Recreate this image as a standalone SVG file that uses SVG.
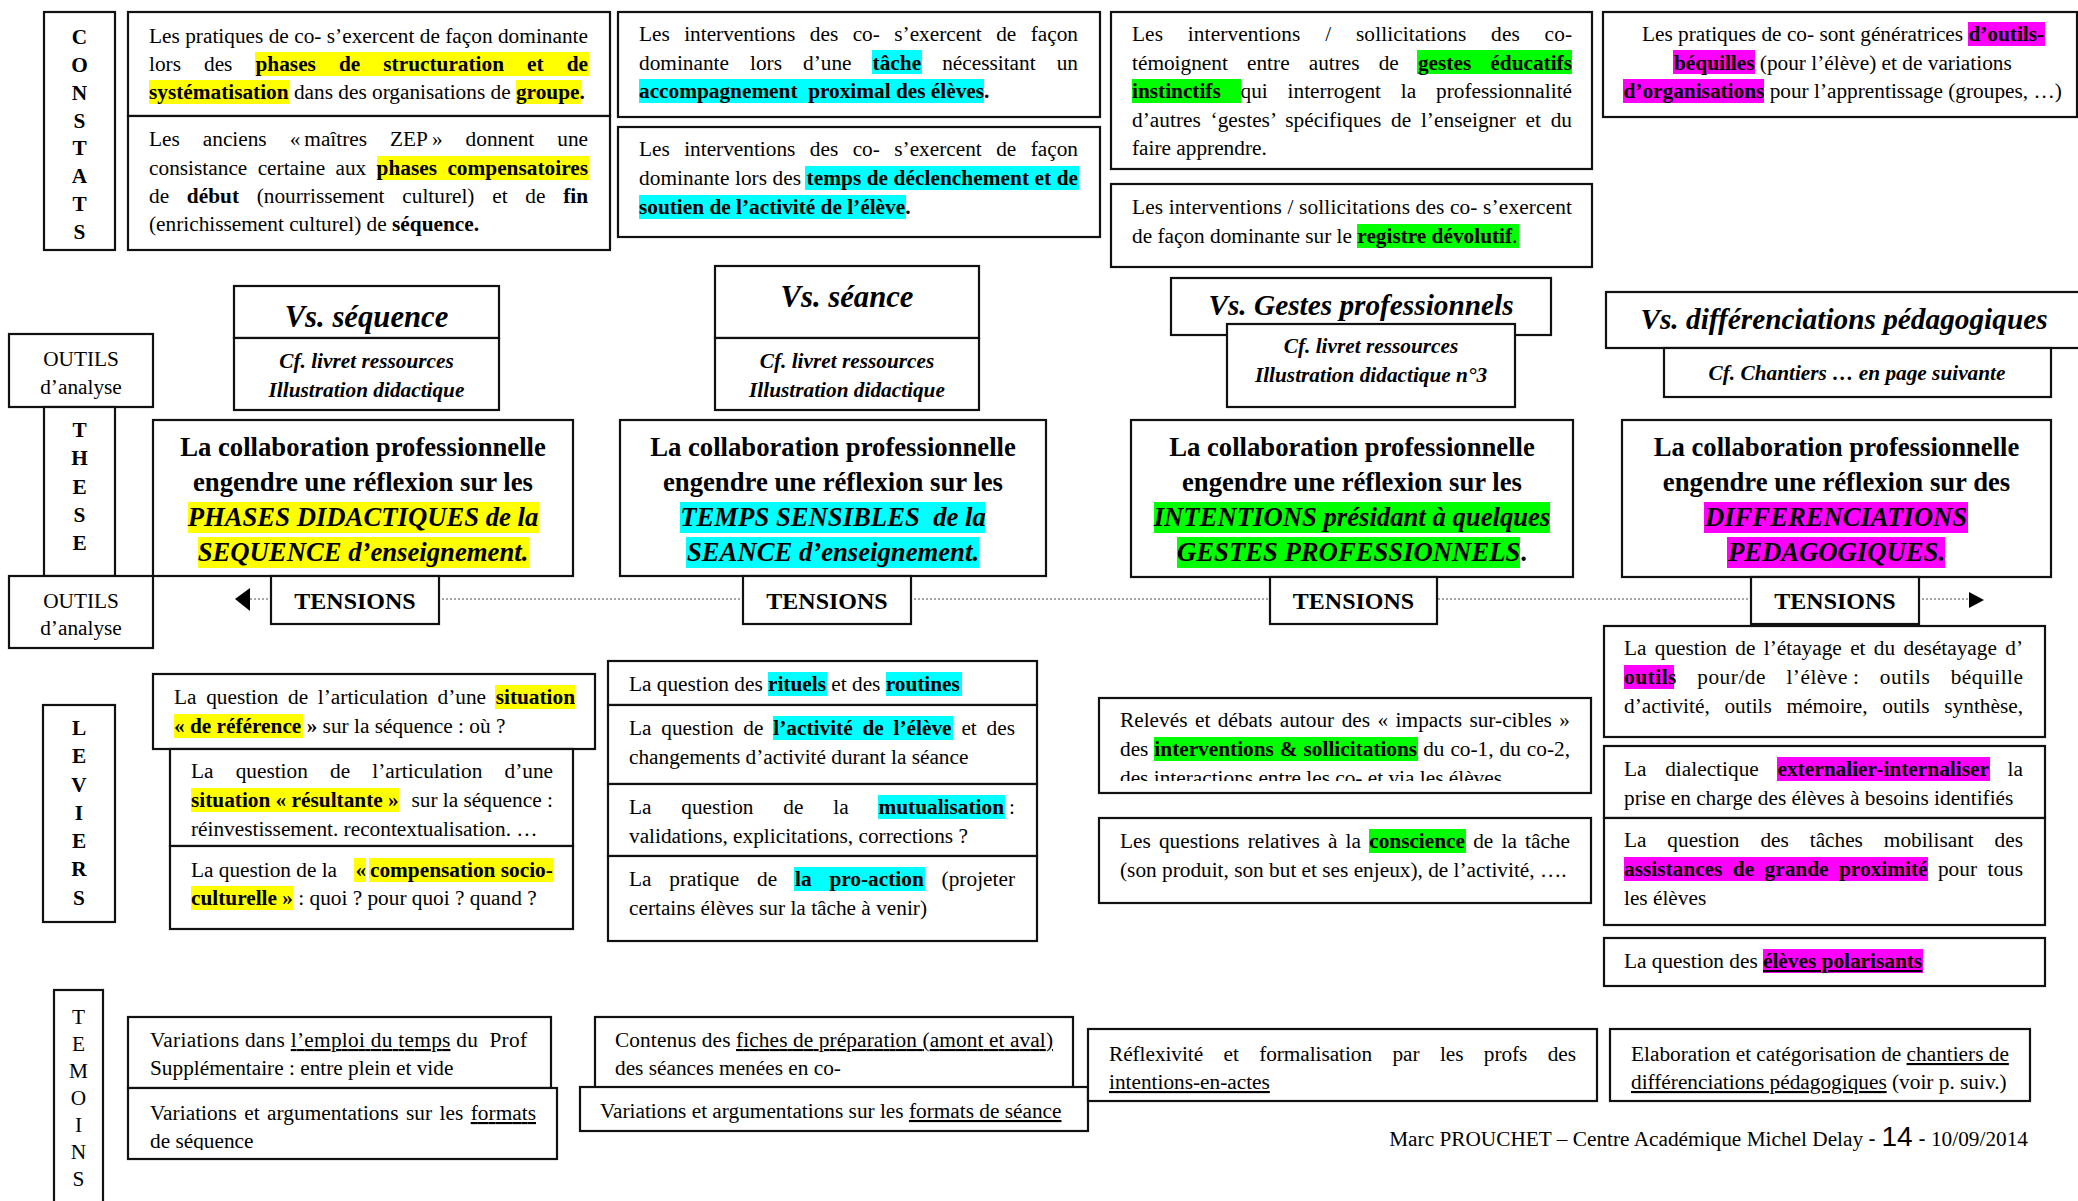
<svg xmlns="http://www.w3.org/2000/svg" width="2078" height="1201" viewBox="0 0 2078 1201">
<defs>
<style>
.t{font-family:"Liberation Serif","Times New Roman",serif;font-size:21.3px;fill:#000}
.b{font-weight:700}
.bi{font-weight:700;font-style:italic}
.u{text-decoration:underline}
.m{text-anchor:middle}
.th{font-family:"Liberation Serif","Times New Roman",serif;font-size:26.7px;font-weight:700;text-anchor:middle;fill:#000}
.hd{font-family:"Liberation Serif","Times New Roman",serif;font-weight:700;font-style:italic;text-anchor:middle;fill:#000}
.ten{font-family:"Liberation Serif","Times New Roman",serif;font-size:24px;font-weight:700;text-anchor:middle;fill:#000}
.sans{font-family:"Liberation Sans",Arial,sans-serif}
.box{fill:#fff;stroke:#111;stroke-width:2.2}
.hy{fill:#ffff00}.hc{fill:#00ffff}.hg{fill:#00ff00}.hm{fill:#ff00ff}
.dot{stroke:#8a8a8a;stroke-width:1.6;stroke-dasharray:2 2;fill:none}
</style>
<clipPath id="clipC1"><rect x="1100" y="699" width="490" height="82"/></clipPath>
<clipPath id="clipT2"><rect x="129" y="1089" width="427" height="61"/></clipPath>
</defs>
<rect width="2078" height="1201" fill="#fff"/>

<g id="connectors">
<line class="dot" x1="250" y1="599" x2="1969" y2="599"/>
<polygon points="235,599 250,588 250,611" fill="#000"/>
<polygon points="1969,592 1984,600 1969,608" fill="#000"/>
</g>

<g id="constats" class="t b m">
<rect class="box" x="44" y="12" width="71" height="238"/>
<text x="79.5" y="44">C</text><text x="79.5" y="72">O</text><text x="79.5" y="100">N</text><text x="79.5" y="128">S</text><text x="79.5" y="155">T</text><text x="79.5" y="183">A</text><text x="79.5" y="211">T</text><text x="79.5" y="239">S</text>
</g>

<g id="constat-a1">
<rect class="box" x="128" y="12" width="482" height="104"/>
<rect class="hy" x="255" y="52" width="334" height="24"/>
<rect class="hy" x="149" y="80" width="140" height="24"/>
<rect class="hy" x="516" y="80" width="65" height="24"/>
<text class="t" x="149" y="43" textLength="439" lengthAdjust="spacing">Les pratiques de co- s’exercent de façon dominante</text>
<text class="t" x="149" y="71" style="word-spacing:17.75px" textLength="439" lengthAdjust="spacing">lors des <tspan class="b">phases de structuration et de</tspan></text>
<text class="t" x="149" y="99"><tspan class="b">systématisation</tspan> dans des organisations de <tspan class="b">groupe.</tspan></text>
</g>

<g id="constat-a2">
<rect class="box" x="128" y="116" width="482" height="134"/>
<rect class="hy" x="377" y="156" width="212" height="24"/>
<text class="t" x="149" y="146" style="word-spacing:17.7px" textLength="439" lengthAdjust="spacing">Les anciens «<tspan dx="4">maîtres ZEP</tspan><tspan dx="4">»</tspan> donnent une</text>
<text class="t" x="149" y="175" style="word-spacing:5px" textLength="439" lengthAdjust="spacing">consistance certaine aux <tspan class="b">phases compensatoires</tspan></text>
<text class="t" x="149" y="203" style="word-spacing:12.4px" textLength="439" lengthAdjust="spacing">de <tspan class="b">début</tspan> (nourrissement culturel) et de <tspan class="b">fin</tspan></text>
<text class="t" x="149" y="231">(enrichissement culturel) de <tspan class="b">séquence.</tspan></text>
</g>

<g id="constat-b1">
<rect class="box" x="618" y="12" width="482" height="105"/>
<rect class="hc" x="872" y="50" width="50" height="24"/>
<rect class="hc" x="639" y="79" width="345" height="24"/>
<text class="t" x="639" y="41" style="word-spacing:9.1px" textLength="439" lengthAdjust="spacing">Les interventions des co- s’exercent de façon</text>
<text class="t" x="639" y="69.5" style="word-spacing:15.7px" textLength="439" lengthAdjust="spacing">dominante lors d’une <tspan class="b">tâche</tspan> nécessitant un</text>
<text class="t b" x="639" y="98">accompagnement&#160; proximal des élèves.</text>
</g>

<g id="constat-b2">
<rect class="box" x="618" y="127" width="482" height="110"/>
<rect class="hc" x="805" y="166" width="274" height="24"/>
<rect class="hc" x="639" y="195" width="267" height="24"/>
<text class="t" x="639" y="156" style="word-spacing:9.1px" textLength="439" lengthAdjust="spacing">Les interventions des co- s’exercent de façon</text>
<text class="t" x="639" y="185" textLength="439" lengthAdjust="spacing">dominante lors des <tspan class="b">temps de déclenchement et de</tspan></text>
<text class="t b" x="639" y="214">soutien de l’activité de l’élève.</text>
</g>

<g id="constat-c1">
<rect class="box" x="1111" y="12" width="481" height="157"/>
<rect class="hg" x="1417" y="50" width="155" height="24"/>
<rect class="hg" x="1132" y="79" width="109" height="24"/>
<text class="t" x="1132" y="41" style="word-spacing:19.3px" textLength="440" lengthAdjust="spacing">Les interventions / sollicitations des co-</text>
<text class="t" x="1132" y="69.5" style="word-spacing:13.8px" textLength="440" lengthAdjust="spacing">témoignent entre autres de <tspan class="b">gestes éducatifs</tspan></text>
<text class="t" x="1132" y="98" style="word-spacing:14.5px" textLength="440" lengthAdjust="spacing"><tspan class="b">instinctifs</tspan> qui interrogent la professionnalité</text>
<text class="t" x="1132" y="126.5" style="word-spacing:4.3px" textLength="440" lengthAdjust="spacing">d’autres ‘gestes’ spécifiques de l’enseigner et du</text>
<text class="t" x="1132" y="155">faire apprendre.</text>
</g>

<g id="constat-c2">
<rect class="box" x="1111" y="184" width="481" height="83"/>
<rect class="hg" x="1357" y="224" width="162" height="24"/>
<text class="t" x="1132" y="214" textLength="440" lengthAdjust="spacing">Les interventions / sollicitations des co- s’exercent</text>
<text class="t" x="1132" y="243">de façon dominante sur le <tspan class="b">registre dévolutif</tspan>.</text>
</g>

<g id="constat-d1">
<rect class="box" x="1603" y="12" width="474" height="105"/>
<rect class="hm" x="1968" y="22" width="77" height="24"/>
<rect class="hm" x="1673" y="50" width="82" height="24"/>
<rect class="hm" x="1623" y="79" width="141" height="24"/>
<text class="t" x="1642" y="41">Les pratiques de co- sont génératrices <tspan class="b">d’outils-</tspan></text>
<text class="t" x="1674" y="69.5"><tspan class="b">béquilles</tspan> (pour l’élève) et de variations</text>
<text class="t" x="1623.5" y="98"><tspan class="b">d’organisations</tspan> pour l’apprentissage (groupes, …)</text>
</g>

<g id="outils-1" class="t m">
<rect class="box" x="9" y="334" width="144" height="73"/>
<text x="81" y="366">OUTILS</text>
<text x="81" y="394">d’analyse</text>
</g>

<g id="these" class="t b m">
<rect class="box" x="44" y="407" width="71" height="169"/>
<text x="79.5" y="437">T</text><text x="79.5" y="465">H</text><text x="79.5" y="494">E</text><text x="79.5" y="522">S</text><text x="79.5" y="550">E</text>
</g>

<g id="outils-2" class="t m">
<rect class="box" x="9" y="576" width="144" height="72"/>
<text x="81" y="608">OUTILS</text>
<text x="81" y="635">d’analyse</text>
</g>

<g id="vs-sequence">
<rect class="box" x="234" y="286" width="265" height="52"/>
<rect class="box" x="234" y="338" width="265" height="72"/>
<text class="hd" x="366.5" y="327" font-size="30.7">Vs. séquence</text>
<text class="hd" x="366.5" y="368" font-size="21.3">Cf. livret ressources</text>
<text class="hd" x="366.5" y="397" font-size="21.3">Illustration didactique</text>
</g>

<g id="vs-seance">
<rect class="box" x="715" y="266" width="264" height="72"/>
<rect class="box" x="715" y="338" width="264" height="72"/>
<text class="hd" x="847" y="307" font-size="30.7">Vs. séance</text>
<text class="hd" x="847" y="368" font-size="21.3">Cf. livret ressources</text>
<text class="hd" x="847" y="397" font-size="21.3">Illustration didactique</text>
</g>

<g id="vs-gestes">
<rect class="box" x="1171" y="278" width="380" height="57"/>
<rect class="box" x="1227" y="324" width="288" height="83"/>
<text class="hd" x="1361" y="315" font-size="29.3">Vs. Gestes professionnels</text>
<text class="hd" x="1371" y="353" font-size="21.3">Cf. livret ressources</text>
<text class="hd" x="1371" y="382" font-size="21.3">Illustration didactique n°3</text>
</g>

<g id="vs-differenciations">
<rect class="box" x="1606" y="292" width="484" height="56"/>
<rect class="box" x="1664" y="348" width="387" height="49"/>
<text class="hd" x="1844" y="329" font-size="29.3">Vs. différenciations pédagogiques</text>
<text class="hd" x="1857" y="380" font-size="21.3">Cf. Chantiers … en page suivante</text>
</g>

<g id="these-1">
<rect class="box" x="153" y="420" width="420" height="156"/>
<rect class="hy" x="188" y="502" width="351" height="31"/>
<rect class="hy" x="198" y="537" width="331" height="31"/>
<text class="th" x="363" y="456">La collaboration professionnelle</text>
<text class="th" x="363" y="491">engendre une réflexion sur les</text>
<text class="th" x="363" y="526" font-style="italic">PHASES DIDACTIQUES de la</text>
<text class="th" x="363" y="561" font-style="italic">SEQUENCE d’enseignement.</text>
</g>

<g id="these-2">
<rect class="box" x="620" y="420" width="426" height="156"/>
<rect class="hc" x="680" y="502" width="305" height="31"/>
<rect class="hc" x="686" y="537" width="293" height="31"/>
<text class="th" x="833" y="456">La collaboration professionnelle</text>
<text class="th" x="833" y="491">engendre une réflexion sur les</text>
<text class="th" x="833" y="526" font-style="italic">TEMPS SENSIBLES&#160; de la</text>
<text class="th" x="833" y="561" font-style="italic">SEANCE d’enseignement.</text>
</g>

<g id="these-3">
<rect class="box" x="1131" y="420" width="442" height="157"/>
<rect class="hg" x="1154" y="502" width="396" height="31"/>
<rect class="hg" x="1177" y="537" width="343" height="31"/>
<text class="th" x="1352" y="456">La collaboration professionnelle</text>
<text class="th" x="1352" y="491">engendre une réflexion sur les</text>
<text class="th" x="1352" y="526" font-style="italic">INTENTIONS présidant à quelques</text>
<text class="th" x="1352" y="561" font-style="italic">GESTES PROFESSIONNELS<tspan font-style="normal">.</tspan></text>
</g>

<g id="these-4">
<rect class="box" x="1622" y="420" width="429" height="157"/>
<rect class="hm" x="1704" y="502" width="264" height="31"/>
<rect class="hm" x="1727" y="537" width="218" height="31"/>
<text class="th" x="1836.5" y="456">La collaboration professionnelle</text>
<text class="th" x="1836.5" y="491">engendre une réflexion sur des</text>
<text class="th" x="1836" y="526" font-style="italic" textLength="262" lengthAdjust="spacingAndGlyphs">DIFFERENCIATIONS</text>
<text class="th" x="1836.5" y="561" font-style="italic">PEDAGOGIQUES.</text>
</g>

<g id="tensions-1"><rect class="box" x="271" y="576" width="168" height="48"/><text class="ten" x="355" y="609">TENSIONS</text></g>
<g id="tensions-2"><rect class="box" x="743" y="576" width="168" height="48"/><text class="ten" x="827" y="609">TENSIONS</text></g>
<g id="tensions-3"><rect class="box" x="1270" y="577" width="167" height="47"/><text class="ten" x="1353.5" y="609">TENSIONS</text></g>
<g id="tensions-4"><rect class="box" x="1751" y="577" width="168" height="47"/><text class="ten" x="1835" y="609">TENSIONS</text></g>

<g id="leviers" class="t b m">
<rect class="box" x="43" y="705" width="72" height="217"/>
<text x="79" y="735">L</text><text x="79" y="763">E</text><text x="79" y="792">V</text><text x="79" y="820">I</text><text x="79" y="848">E</text><text x="79" y="876">R</text><text x="79" y="905">S</text>
</g>

<g id="levier-a1">
<rect class="box" x="153" y="674" width="442" height="75"/>
<rect class="hy" x="495" y="685" width="80" height="24"/>
<rect class="hy" x="174" y="714" width="129" height="24"/>
<text class="t" x="174" y="704" style="word-spacing:4.4px" textLength="401" lengthAdjust="spacing">La question de l’articulation d’une <tspan class="b">situation</tspan></text>
<text class="t" x="174" y="733"><tspan class="b">« de référence »</tspan> sur la séquence : où ?</text>
</g>

<g id="levier-a2">
<rect class="box" x="170" y="749" width="403" height="97"/>
<rect class="hy" x="191" y="788" width="208" height="24"/>
<text class="t" x="191" y="778" style="word-spacing:16.85px" textLength="362" lengthAdjust="spacing">La question de l’articulation d’une</text>
<text class="t b" x="191" y="807">situation « résultante »</text>
<text class="t" x="411.5" y="807">sur la séquence :</text>
<text class="t" x="191" y="836">réinvestissement. recontextualisation. …</text>
</g>

<g id="levier-a3">
<rect class="box" x="170" y="846" width="403" height="83"/>
<rect class="hy" x="354" y="858" width="12" height="24"/>
<rect class="hy" x="369" y="858" width="184" height="24"/>
<rect class="hy" x="191" y="886" width="102" height="24"/>
<text class="t" x="191" y="877">La question de la</text>
<text class="t b" x="355.5" y="877">«</text>
<text class="t b" x="370" y="877">compensation socio-</text>
<text class="t" x="191" y="905"><tspan class="b">culturelle »</tspan> : quoi ? pour quoi ? quand ?</text>
</g>

<g id="levier-b">
<rect class="box" x="608" y="661" width="429" height="44"/>
<rect class="box" x="608" y="705" width="429" height="79"/>
<rect class="box" x="608" y="784" width="429" height="72"/>
<rect class="box" x="608" y="856" width="429" height="85"/>
<rect class="hc" x="768" y="672" width="59" height="24"/>
<rect class="hc" x="886" y="672" width="76" height="24"/>
<rect class="hc" x="773" y="716" width="180" height="24"/>
<rect class="hc" x="878" y="795" width="127" height="24"/>
<rect class="hc" x="794" y="867" width="131" height="24"/>
<text class="t" x="629" y="691">La question des <tspan class="b">rituels</tspan> et des <tspan class="b">routines</tspan></text>
<text class="t" x="629" y="735" style="word-spacing:4.5px" textLength="386" lengthAdjust="spacing">La question de <tspan class="b">l’activité de l’élève</tspan> et des</text>
<text class="t" x="629" y="764">changements d’activité durant la séance</text>
<text class="t" x="629" y="814" style="word-spacing:24.5px" textLength="375" lengthAdjust="spacing">La question de la <tspan class="b">mutualisation</tspan></text>
<text class="t" x="1009" y="814">:</text>
<text class="t" x="629" y="843">validations, explicitations, corrections ?</text>
<text class="t" x="629" y="886" style="word-spacing:12.5px" textLength="386" lengthAdjust="spacing">La pratique de <tspan class="b">la pro-action</tspan> (projeter</text>
<text class="t" x="629" y="915">certains élèves sur la tâche à venir)</text>
</g>

<g id="levier-c1">
<rect class="box" x="1099" y="698" width="492" height="95"/>
<rect class="hg" x="1154" y="737" width="264" height="24"/>
<text class="t" x="1120" y="727" style="word-spacing:2.1px" textLength="450" lengthAdjust="spacing">Relevés et débats autour des « impacts sur-cibles »</text>
<text class="t" x="1120" y="756" style="word-spacing:0.66px" textLength="450" lengthAdjust="spacing">des <tspan class="b">interventions &amp; sollicitations</tspan> du co-1, du co-2,</text>
<text class="t" x="1120" y="785" clip-path="url(#clipC1)">des interactions entre les co- et via les élèves</text>
</g>

<g id="levier-c2">
<rect class="box" x="1099" y="818" width="492" height="85"/>
<rect class="hg" x="1369" y="829" width="97" height="24"/>
<text class="t" x="1120" y="848" style="word-spacing:2.9px" textLength="450" lengthAdjust="spacing">Les questions relatives à la <tspan class="b">conscience</tspan> de la tâche</text>
<text class="t" x="1120" y="877">(son produit, son but et ses enjeux), de l’activité, ….</text>
</g>

<g id="levier-d1">
<rect class="box" x="1604" y="626" width="441" height="111"/>
<rect class="hm" x="1624" y="665" width="50" height="24"/>
<text class="t" x="1624" y="655" style="word-spacing:3px" textLength="399" lengthAdjust="spacing">La question de l’étayage et du desétayage d’</text>
<text class="t" x="1624" y="684" style="word-spacing:14.5px" textLength="399" lengthAdjust="spacing"><tspan class="b">outils</tspan> pour/de l’élève<tspan dx="5">:</tspan> outils béquille</text>
<text class="t" x="1624" y="713" style="word-spacing:9.4px" textLength="399" lengthAdjust="spacing">d’activité, outils mémoire, outils synthèse,</text>
</g>

<g id="levier-d2">
<rect class="box" x="1604" y="746" width="441" height="72"/>
<rect class="hm" x="1777" y="757" width="213" height="24"/>
<text class="t" x="1624" y="776" style="word-spacing:13.3px" textLength="399" lengthAdjust="spacing">La dialectique <tspan class="b">externalier-internaliser</tspan> la</text>
<text class="t" x="1624" y="805">prise en charge des élèves à besoins identifiés</text>
</g>

<g id="levier-d3">
<rect class="box" x="1604" y="818" width="441" height="107"/>
<rect class="hm" x="1624" y="857" width="304" height="24"/>
<text class="t" x="1624" y="847" style="word-spacing:15.6px" textLength="399" lengthAdjust="spacing">La question des tâches mobilisant des</text>
<text class="t" x="1624" y="876" style="word-spacing:5.1px" textLength="399" lengthAdjust="spacing"><tspan class="b">assistances de grande proximité</tspan> pour tous</text>
<text class="t" x="1624" y="905">les élèves</text>
</g>

<g id="levier-d4">
<rect class="box" x="1604" y="938" width="441" height="48"/>
<rect class="hm" x="1763" y="949" width="160" height="24"/>
<text class="t" x="1624" y="968">La question des <tspan class="b u">élèves polarisants</tspan></text>
</g>

<g id="temoins" class="t m">
<rect class="box" x="54" y="990" width="49" height="220"/>
<text x="78.5" y="1024">T</text><text x="78.5" y="1051">E</text><text x="78.5" y="1078">M</text><text x="78.5" y="1105">O</text><text x="78.5" y="1132">I</text><text x="78.5" y="1159">N</text><text x="78.5" y="1186">S</text>
</g>

<g id="temoin-1">
<rect class="box" x="128" y="1017" width="423" height="71"/>
<text class="t" x="150" y="1047" textLength="377" lengthAdjust="spacing">Variations dans <tspan class="u">l’emploi du temps</tspan> du&#160; Prof</text>
<text class="t" x="150" y="1075">Supplémentaire : entre plein et vide</text>
</g>

<g id="temoin-2">
<rect class="box" x="128" y="1088" width="429" height="71"/>
<text class="t" x="150" y="1120" style="word-spacing:2px" textLength="386" lengthAdjust="spacing">Variations et argumentations sur les <tspan class="u">formats</tspan></text>
<text class="t" x="150" y="1148" clip-path="url(#clipT2)">de séquence</text>
</g>

<g id="temoin-3">
<rect class="box" x="595" y="1017" width="478" height="71"/>
<text class="t" x="615" y="1047" textLength="438" lengthAdjust="spacing">Contenus des <tspan class="u">fiches de préparation (amont et aval)</tspan></text>
<text class="t" x="615" y="1075">des séances menées en co-</text>
</g>

<g id="temoin-4">
<rect class="box" x="580" y="1087" width="508" height="44"/>
<text class="t" x="600" y="1118">Variations et argumentations sur les <tspan class="u">formats de séance</tspan></text>
</g>

<g id="temoin-5">
<rect class="box" x="1088" y="1029" width="509" height="72"/>
<text class="t" x="1109" y="1061" style="word-spacing:15.1px" textLength="467" lengthAdjust="spacing">Réflexivité et formalisation par les profs des</text>
<text class="t u" x="1109" y="1089">intentions-en-actes</text>
</g>

<g id="temoin-6">
<rect class="box" x="1610" y="1029" width="420" height="72"/>
<text class="t" x="1631" y="1061">Elaboration et catégorisation de <tspan class="u">chantiers de</tspan></text>
<text class="t" x="1631" y="1089"><tspan class="u">différenciations pédagogiques</tspan> (voir p. suiv.)</text>
</g>

<g id="footer">
<text class="t" x="2028" y="1146" text-anchor="end">Marc PROUCHET – Centre Académique Michel Delay <tspan class="sans">- </tspan><tspan class="sans" font-size="28">14</tspan><tspan class="sans"> -</tspan> 10/09/2014</text>
</g>
</svg>
